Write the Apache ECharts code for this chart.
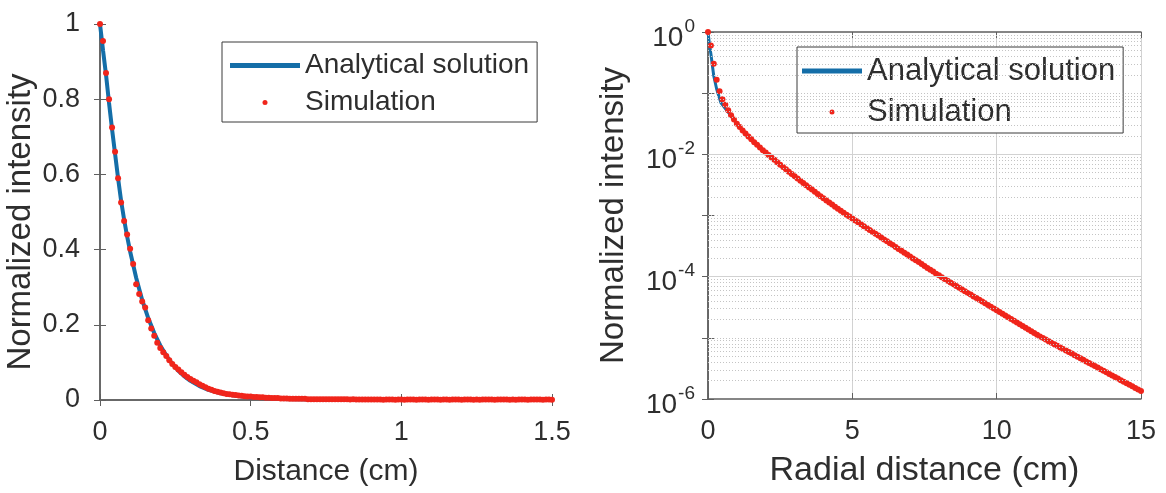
<!DOCTYPE html>
<html><head><meta charset="utf-8">
<script src="https://cdn.jsdelivr.net/npm/echarts@6/dist/echarts.min.js"></script>
<style>html,body{margin:0;padding:0;background:#fff}#chart{width:1166px;height:493px}</style>
</head><body><div id="chart"></div>
<script>
// ---------- data ----------
const distanceTicks = [0, 0.5, 1, 1.5];
const intensityTicks = [0, 0.2, 0.4, 0.6, 0.8, 1];
const radialTicks = [0, 5, 10, 15];
const logLabelExponents = [0, -2, -4, -6];

// Left panel: analytical solution (line)
const analyticDistance = [0,0.01,0.02,0.03,0.04,0.05,0.06,0.07,0.08,0.09,0.10,0.12,0.14,0.16,0.18,0.20,0.22,0.24,0.26,0.28,0.30,0.33,0.36,0.40,0.45,0.50,0.60,0.70,0.85,1.0,1.5];
const analyticIntensity = [1,0.93,0.865,0.79,0.72,0.655,0.59,0.53,0.48,0.435,0.395,0.325,0.266,0.218,0.178,0.145,0.118,0.096,0.078,0.063,0.051,0.037,0.027,0.018,0.011,0.0065,0.0025,0.001,0.0003,0.0001,0];

// Left panel: simulation (dots), sampled every 0.01 cm
const simDistanceStep = 0.01;
const simIntensity = [
1.0,0.955,0.87,0.80,0.725,0.66,0.59,0.525,0.476,0.44,
0.402,0.362,0.308,0.282,0.262,0.246,0.212,0.19,0.171,0.152,
0.138,0.127,0.117,0.106,0.096,0.088,0.081,0.074,0.067,0.061,
0.056,0.051,0.047,0.042,0.038,0.034,0.030,0.027,0.024,0.022,
0.020,0.018,0.016,0.015,0.014,0.013,0.012,0.011,0.010,0.009,
0.009,0.008,0.008,0.007,0.007,0.006,0.006,0.005,0.005,0.005,
0.004,
0.004,0.004,0.003,0.003,0.003,0.003,0.003,0.003,0.002,0.002,
0.002,0.002,0.002,0.002,0.002,0.002,0.002,0.002,0.002,0.002,
0.002,0.002,0.001,0.002,0.001,0.001,0.001,0.001,0.001,0.001,
0.001,0.0012,0.001,0.0008,0.001,0.001,0.0011,0.0009,0.001,0.001,
0.0009,0.001,0.0011,0.001,0.0008,0.001,0.0012,0.001,0.0009,0.001,
0.001,0.0011,0.0009,0.001,0.001,0.0008,0.001,0.0012,0.001,0.0009,
0.001,0.001,0.0011,0.0009,0.001,0.0008,0.001,0.001,0.0012,0.001,
0.0009,0.001,0.001,0.0011,0.001,0.0008,0.001,0.0009,0.001,0.0011,
0.001,0.0009,0.001,0.001,0.0012,0.001,0.0008,0.001,0.001,0.0009
];

// Right panel: analytical solution (line)
const analyticRadial = [0,0.05,0.1,0.2,0.3,0.45,0.6,0.8,1,1.5,2,3,4,5,6,7,8,9,10,11,12,13,14,15];
const analyticRadialIntensity = [1,0.631,0.437,0.191,0.117,0.0692,0.0562,0.0427,0.0316,0.0176,0.0107,4.37e-3,1.91e-3,8.91e-4,4.37e-4,2.14e-4,1.05e-4,5.43e-5,2.82e-5,1.46e-5,7.85e-6,4.37e-6,2.43e-6,1.35e-6];

// Right panel: simulation (dots), sampled every 0.1 cm
const simRadialStep = 0.1;
const simRadialIntensity = [
1,6.03e-1,3.02e-1,1.66e-1,1.07e-1,7.94e-2,6.46e-2,5.25e-2,4.37e-2,3.72e-2,
3.16e-2,2.79e-2,2.45e-2,2.19e-2,1.95e-2,1.76e-2,1.58e-2,1.43e-2,1.29e-2,1.17e-2,
1.07e-2,9.77e-3,8.91e-3,8.13e-3,7.41e-3,6.76e-3,6.19e-3,5.68e-3,5.20e-3,4.76e-3,
4.37e-3,4.02e-3,3.70e-3,3.40e-3,3.13e-3,2.88e-3,2.65e-3,2.44e-3,2.25e-3,2.07e-3,
1.91e-3,1.76e-3,1.63e-3,1.51e-3,1.39e-3,1.29e-3,1.20e-3,1.11e-3,1.03e-3,9.59e-4,
8.91e-4,
8.30e-4,7.73e-4,7.19e-4,6.70e-4,6.24e-4,5.81e-4,5.41e-4,5.04e-4,4.69e-4,4.37e-4,
4.06e-4,3.78e-4,3.52e-4,3.28e-4,3.05e-4,2.84e-4,2.65e-4,2.47e-4,2.30e-4,2.14e-4,
1.99e-4,1.85e-4,1.73e-4,1.61e-4,1.50e-4,1.39e-4,1.30e-4,1.21e-4,1.12e-4,1.05e-4,
9.80e-5,9.18e-5,8.60e-5,8.05e-5,7.54e-5,7.06e-5,6.61e-5,6.19e-5,5.80e-5,5.43e-5,
5.09e-5,4.76e-5,4.46e-5,4.18e-5,3.91e-5,3.66e-5,3.43e-5,3.21e-5,3.01e-5,2.82e-5,
2.64e-5,2.47e-5,2.32e-5,2.17e-5,2.03e-5,1.90e-5,1.78e-5,1.67e-5,1.56e-5,1.46e-5,
1.37e-5,1.28e-5,1.20e-5,1.12e-5,1.05e-5,9.93e-6,9.36e-6,8.83e-6,8.33e-6,7.85e-6,
7.40e-6,6.98e-6,6.58e-6,6.21e-6,5.85e-6,5.52e-6,5.21e-6,4.91e-6,4.63e-6,4.37e-6,
4.12e-6,3.88e-6,3.66e-6,3.45e-6,3.26e-6,3.07e-6,2.89e-6,2.73e-6,2.57e-6,2.43e-6,
2.29e-6,2.16e-6,2.03e-6,1.92e-6,1.81e-6,1.71e-6,1.61e-6,1.52e-6,1.43e-6,1.35e-6
];

// ---------- styling ----------
const FONT = '"Liberation Sans", Arial, Helvetica, sans-serif';
const TXT = '#2e2e2e';
const AXC = '#5f5f5f';
const BLUE = '#146ea8';
const RED = '#f0251b';
const GRID_MAJOR = '#d2d2d2';
const GRID_MINOR = '#c4c4c4';

const pairs = (xs, ys) => xs.map((x, i) => [x, ys[i]]);
const stepPairs = (step, ys) => ys.map((y, i) => [+(i * step).toFixed(4), y]);

// minor (dotted) and major (solid) horizontal grid levels for the log panel
const minorLevels = [], majorLevels = [];
for (let k = -6; k < 0; k++) {
  for (let m = 1; m <= 9; m++) {
    const v = +(m * Math.pow(10, k)).toPrecision(3);
    if (m === 1 && logLabelExponents.includes(k)) { if (k !== -6) majorLevels.push(v); }
    else minorLevels.push(v);
  }
}

const axLine = { show: true, lineStyle: { color: AXC, width: 1.5 } };
const inTick = { show: true, inside: true, length: 6, lineStyle: { color: AXC, width: 1 } };
const noLabel = { show: false };

const option = {
  animation: false,
  backgroundColor: '#fff',
  grid: [
    { left: 100, top: 24, width: 452, height: 376 },
    { left: 708, top: 32, width: 433, height: 368 }
  ],
  legend: [
    {
      left: 222, top: 42, orient: 'vertical', selectedMode: false,
      backgroundColor: '#fff', borderColor: '#3a3a3a', borderWidth: 1,
      padding: [8, 8, 4, 8], itemWidth: 70, itemHeight: 5, itemGap: 6,
      textStyle: { fontFamily: FONT, fontSize: 28, color: TXT, lineHeight: 31 },
      data: [{ name: 'Analytical solution', icon: 'rect' }, { name: 'Simulation', icon: 'circle' }]
    },
    {
      left: 797, top: 47, orient: 'vertical', selectedMode: false,
      backgroundColor: '#fff', borderColor: '#3a3a3a', borderWidth: 1,
      padding: [7, 8, 4, 5], itemWidth: 60, itemHeight: 5, itemGap: 7,
      textStyle: { fontFamily: FONT, fontSize: 31, color: TXT, lineHeight: 34 },
      data: [{ name: 'Analytical solution', icon: 'rect' }, { name: 'Simulation', icon: 'circle' }]
    }
  ],
  xAxis: [
    {
      gridIndex: 0, type: 'value', min: distanceTicks[0], max: distanceTicks[distanceTicks.length - 1], interval: 0.5,
      name: 'Distance (cm)', nameLocation: 'middle', nameGap: 57,
      nameTextStyle: { fontFamily: FONT, fontSize: 30, color: TXT },
      axisLine: axLine, axisTick: inTick, splitLine: { show: false },
      axisLabel: { margin: 19, fontFamily: FONT, fontSize: 27, color: TXT }
    },
    {
      gridIndex: 0, type: 'value', position: 'top', min: 0, max: 1.5, interval: 0.5,
      axisLine: axLine, axisTick: inTick, axisLabel: noLabel, splitLine: { show: false }
    },
    {
      gridIndex: 1, type: 'value', min: radialTicks[0], max: radialTicks[radialTicks.length - 1], interval: 5,
      name: 'Radial distance (cm)', nameLocation: 'middle', nameGap: 55,
      nameTextStyle: { fontFamily: FONT, fontSize: 34, color: TXT },
      axisLine: axLine, axisTick: inTick,
      splitLine: { show: true, lineStyle: { color: GRID_MAJOR, width: 1 } },
      axisLabel: { margin: 19, fontFamily: FONT, fontSize: 27, color: TXT }
    },
    {
      gridIndex: 1, type: 'value', position: 'top', min: 0, max: 15, interval: 5,
      axisLine: axLine, axisTick: inTick, axisLabel: noLabel, splitLine: { show: false }
    }
  ],
  yAxis: [
    {
      gridIndex: 0, type: 'value', min: intensityTicks[0], max: intensityTicks[intensityTicks.length - 1], interval: 0.2,
      name: 'Normalized intensity', nameLocation: 'middle', nameGap: 63,
      nameTextStyle: { fontFamily: FONT, fontSize: 33, color: TXT, padding: [0, 20, 0, 0] },
      axisLine: axLine, axisTick: inTick, splitLine: { show: false },
      axisLabel: { margin: 20, fontFamily: FONT, fontSize: 27, color: TXT, padding: [10, 0, 0, 0] }
    },
    {
      gridIndex: 0, type: 'value', position: 'right', min: 0, max: 1, interval: 0.2,
      axisLine: axLine, axisTick: inTick, axisLabel: noLabel, splitLine: { show: false }
    },
    {
      gridIndex: 1, type: 'log', logBase: 10, min: 1e-6, max: 1, splitNumber: 6,
      name: 'Normalized intensity', nameLocation: 'middle', nameGap: 78,
      nameTextStyle: { fontFamily: FONT, fontSize: 33, color: TXT },
      axisLine: axLine, axisTick: inTick, splitLine: { show: false },
      axisLabel: {
        margin: 13,
        formatter: function (v) {
          const e = Math.round(Math.log10(v));
          if (!logLabelExponents.includes(e)) return '';
          return '{b|10}{s|' + e + '}';
        },
        rich: {
          b: { fontFamily: FONT, fontSize: 28, color: TXT, verticalAlign: 'bottom', padding: [12, 0, 0, 0] },
          s: { fontFamily: FONT, fontSize: 19, color: TXT, verticalAlign: 'top', padding: [5, 0, 0, 1] }
        }
      }
    },
    {
      gridIndex: 1, type: 'log', logBase: 10, position: 'right', min: 1e-6, max: 1, splitNumber: 6,
      axisLine: axLine, axisTick: inTick, axisLabel: noLabel, splitLine: { show: false }
    }
  ],
  series: [
    {
      name: 'Analytical solution', type: 'line', xAxisIndex: 0, yAxisIndex: 0,
      data: pairs(analyticDistance, analyticIntensity),
      showSymbol: false, symbol: 'none', lineStyle: { color: BLUE, width: 4 }, itemStyle: { color: BLUE }, z: 3
    },
    {
      name: 'Simulation', type: 'scatter', xAxisIndex: 0, yAxisIndex: 0,
      data: stepPairs(simDistanceStep, simIntensity),
      symbol: 'circle', symbolSize: 6, itemStyle: { color: RED, opacity: 1 }, z: 4
    },
    {
      type: 'line', xAxisIndex: 2, yAxisIndex: 2, data: [], silent: true, z: 1,
      markLine: {
        silent: true, symbol: 'none', precision: 12, label: { show: false }, animation: false,
        data: minorLevels.map(v => ({ yAxis: v, lineStyle: { type: [1, 2], color: GRID_MINOR, width: 1 } }))
          .concat(majorLevels.map(v => ({ yAxis: v, lineStyle: { type: 'solid', color: GRID_MAJOR, width: 1 } })))
      }
    },
    {
      name: 'Analytical solution', type: 'line', xAxisIndex: 2, yAxisIndex: 2,
      data: pairs(analyticRadial, analyticRadialIntensity),
      showSymbol: false, symbol: 'none', lineStyle: { color: BLUE, width: 3 }, itemStyle: { color: BLUE }, z: 3
    },
    {
      name: 'Simulation', type: 'scatter', xAxisIndex: 2, yAxisIndex: 2,
      data: stepPairs(simRadialStep, simRadialIntensity),
      symbol: 'circle', symbolSize: 6, itemStyle: { color: RED, opacity: 1 }, z: 4
    }
  ]
};

const chart = echarts.init(document.getElementById('chart'), null, { renderer: 'canvas' });
chart.setOption(option);
</script>
</body></html>
